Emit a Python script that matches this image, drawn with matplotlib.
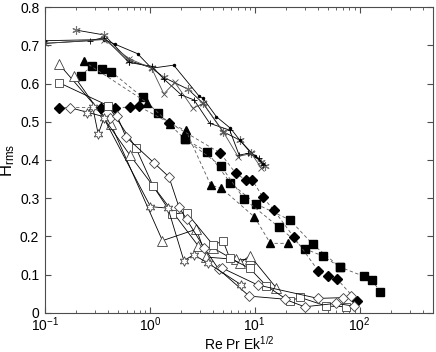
import numpy as np
import matplotlib
matplotlib.use('Agg')
import matplotlib.pyplot as plt

plt.rcParams['font.family'] = ['Liberation Sans', 'DejaVu Sans']
plt.rcParams['mathtext.fontset'] = 'custom'
plt.rcParams['mathtext.rm'] = 'Liberation Sans'
plt.rcParams['mathtext.it'] = 'Liberation Sans:italic'
plt.rcParams['mathtext.bf'] = 'Liberation Sans:bold'

# --- upper cluster (solid lines, small line markers) ---
ast_x = [0.196, 0.367, 0.635, 1.04, 1.36, 2.32, 3.22, 5.0, 7.2, 9.3, 11.6, 12.5]
ast_y = [0.740, 0.727, 0.660, 0.641, 0.616, 0.585, 0.548, 0.474, 0.452, 0.417, 0.396, 0.385]
plus_x = [0.1, 0.268, 0.367, 0.635, 1.04, 1.36, 2.0, 2.64, 3.72, 5.78, 7.1, 8.64, 11.1, 12.0]
plus_y = [0.705, 0.712, 0.720, 0.655, 0.645, 0.612, 0.570, 0.557, 0.496, 0.478, 0.413, 0.417, 0.404, 0.387]
dot_x = [0.1, 0.367, 0.464, 0.764, 1.04, 1.69, 2.95, 3.22, 4.32, 5.87, 7.2, 10.0, 12.0]
dot_y = [0.712, 0.715, 0.703, 0.678, 0.640, 0.648, 0.567, 0.561, 0.513, 0.483, 0.452, 0.410, 0.390]
cross_x = [0.1, 0.367, 0.635, 1.04, 1.36, 1.73, 2.58, 3.22, 5.0, 6.94, 9.3, 11.6]
cross_y = [0.705, 0.715, 0.665, 0.640, 0.573, 0.603, 0.535, 0.548, 0.474, 0.409, 0.417, 0.378]

# --- filled markers, dashed lines ---
fsqA_x = [0.219, 0.282, 0.351, 0.428, 0.852, 1.2, 2.17, 3.51, 5.87, 10.3, 21.7, 35.9, 64.9, 109, 132, 158]
fsqA_y = [0.620, 0.647, 0.638, 0.631, 0.564, 0.522, 0.454, 0.422, 0.340, 0.285, 0.243, 0.179, 0.120, 0.096, 0.085, 0.054]
fsqB_x = [2.17, 4.75, 7.86, 16.9, 29.9, 44.4, 64.9]
fsqB_y = [0.454, 0.385, 0.299, 0.225, 0.168, 0.149, 0.120]
ftri_x = [0.234, 0.943, 1.57, 2.2, 3.81, 4.82, 9.94, 14.1, 20.6]
ftri_y = [0.658, 0.550, 0.494, 0.478, 0.334, 0.326, 0.251, 0.182, 0.182]
fdia_x = [0.135, 0.339, 0.466, 0.649, 0.789, 1.54, 4.71, 6.59, 8.21, 9.5, 12.0, 15.2, 23.5, 40.4, 49.9, 61.3, 94.3]
fdia_y = [0.537, 0.537, 0.537, 0.538, 0.540, 0.497, 0.418, 0.365, 0.348, 0.347, 0.302, 0.269, 0.199, 0.110, 0.096, 0.088, 0.031]

# --- open markers, solid lines ---
otriA_x = [0.137, 0.425, 1.32, 2.78, 3.46, 6.69, 8.94]
otriA_y = [0.650, 0.494, 0.189, 0.219, 0.146, 0.140, 0.140]
otriB_x = [0.189, 0.645, 2.9, 4.0, 7.2, 9.0, 16.1]
otriB_y = [0.620, 0.413, 0.175, 0.170, 0.130, 0.150, 0.065]
osq_x = [0.137, 0.401, 0.736, 1.075, 1.61, 2.24, 4.0, 5.0, 5.78, 8.94, 12.9, 21.5, 26.8, 48.2, 74.6]
osq_y = [0.602, 0.542, 0.432, 0.332, 0.259, 0.262, 0.178, 0.188, 0.143, 0.117, 0.071, 0.030, 0.041, 0.018, 0.016]
odia_x = [0.173, 0.416, 0.488, 0.59, 1.09, 1.52, 1.89, 2.24, 3.3, 4.54, 8.86, 19.3, 29.9, 59.2, 87.6]
odia_y = [0.537, 0.509, 0.515, 0.461, 0.393, 0.356, 0.278, 0.245, 0.170, 0.114, 0.044, 0.036, 0.016, 0.025, 0.018]
odiaB_x = [4.93, 10.7, 40.1, 69.4, 83.1]
odiaB_y = [0.117, 0.073, 0.038, 0.040, 0.043]
ohex_x = [0.253, 0.285, 0.322, 0.365, 1.015, 1.49, 2.11, 2.62, 3.6, 7.48]
ohex_y = [0.524, 0.539, 0.468, 0.509, 0.278, 0.274, 0.137, 0.152, 0.130, 0.073]

fig = plt.figure(figsize=(4.36, 3.52), dpi=100)
ax = fig.add_axes([0.103, 0.111, 0.890, 0.869])

lw = 0.6
# upper cluster
ax.plot(ast_x, ast_y, '-', color='k', lw=lw, marker=(6, 2, 0), ms=6, mec='0.45', mew=0.8)
ax.plot(plus_x, plus_y, '-', color='k', lw=lw, marker='+', ms=5, mec='k', mew=0.6)
ax.plot(dot_x, dot_y, '-', color='k', lw=lw, marker='.', ms=3, mec='k')
ax.plot(cross_x, cross_y, '-', color='0.3', lw=lw, marker='x', ms=4, mec='0.3', mew=0.6)

# filled, dashed
ax.plot(fsqA_x, fsqA_y, '--', color='0.35', lw=0.6, dashes=(4, 3), marker='s', ms=5.5, mfc='k', mec='k')
ax.plot(fsqB_x, fsqB_y, '--', color='0.35', lw=0.6, dashes=(4, 3), marker='s', ms=5.5, mfc='k', mec='k')
ax.plot(ftri_x, ftri_y, '--', color='0.35', lw=0.6, dashes=(4, 3), marker='^', ms=6, mfc='k', mec='k')
ax.plot(fdia_x, fdia_y, '--', color='0.35', lw=0.6, dashes=(4, 3), marker='D', ms=5.5, mfc='k', mec='k')

# open, solid
ax.plot(otriA_x, otriA_y, '-', color='k', lw=lw, marker='^', ms=7, mfc='w', mec='0.25', mew=0.6)
ax.plot(otriB_x, otriB_y, '-', color='k', lw=lw, marker='^', ms=7, mfc='w', mec='0.25', mew=0.6)
ax.plot(osq_x, osq_y, '-', color='k', lw=lw, marker='s', ms=6, mfc='w', mec='0.25', mew=0.6)
ax.plot(odia_x, odia_y, '-', color='k', lw=lw, marker='D', ms=5.5, mfc='w', mec='0.25', mew=0.6)
ax.plot(odiaB_x, odiaB_y, '-', color='k', lw=lw, marker='D', ms=5.5, mfc='w', mec='0.25', mew=0.6)
ax.plot(ohex_x, ohex_y, '-', color='k', lw=lw, marker=(6, 1, 0), ms=7, mfc='w', mec='0.25', mew=0.6)

ax.set_xscale('log')
ax.set_xlim(0.1, 500)
ax.set_ylim(0, 0.8)
ax.set_yticks(np.arange(0, 0.81, 0.1))
ax.set_yticklabels(['0', '0.1', '0.2', '0.3', '0.4', '0.5', '0.6', '0.7', '0.8'])
ax.tick_params(which='both', direction='in', top=True, right=True, labelsize=10, color='0.3')
ax.tick_params(which='major', length=4)
ax.tick_params(which='minor', length=2.5)
ax.tick_params(axis='x', pad=2)
ax.tick_params(axis='y', pad=4)
for s in ax.spines.values():
    s.set_linewidth(0.8)
    s.set_color('0.3')

ax.set_xlabel(r'Re Pr Ek$^{\mathrm{1/2}}$', fontsize=10)
ax.xaxis.set_label_coords(0.5, -0.071)
ax.set_ylabel(r'H$_{\mathrm{rms}}$', fontsize=12, labelpad=2)

fig.savefig('out.png', dpi=100)
